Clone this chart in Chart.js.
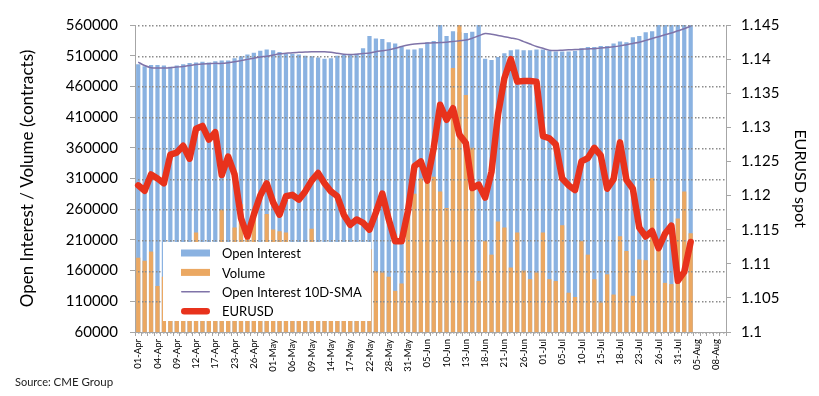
<!DOCTYPE html>
<html>
<head>
<meta charset="utf-8" />
<title>EURUSD futures: open interest and volume</title>
<script src="https://cdn.jsdelivr.net/npm/chart.js"></script>
<style>
  body { margin: 0; background: #fff; }
  #wrap { width: 819px; height: 396px; }
</style>
</head>
<body>
<div id="wrap"><canvas id="oiChart" width="819" height="396"></canvas></div>
<script>
// trading days (CME), 01-Apr .. 09-Aug
const dates = [
  '01-Apr','02-Apr','03-Apr','04-Apr','05-Apr','08-Apr','09-Apr','10-Apr','11-Apr','12-Apr',
  '15-Apr','16-Apr','17-Apr','18-Apr','22-Apr','23-Apr','24-Apr','25-Apr','26-Apr','29-Apr','30-Apr',
  '01-May','02-May','03-May','06-May','07-May','08-May','09-May','10-May','13-May','14-May','15-May',
  '16-May','17-May','20-May','21-May','22-May','23-May','24-May','28-May','29-May','30-May','31-May',
  '03-Jun','04-Jun','05-Jun','06-Jun','07-Jun','10-Jun','11-Jun','12-Jun','13-Jun','14-Jun',
  '17-Jun','18-Jun','19-Jun','20-Jun','21-Jun','24-Jun','25-Jun','26-Jun','27-Jun','28-Jun',
  '01-Jul','02-Jul','03-Jul','05-Jul','08-Jul','09-Jul','10-Jul','11-Jul','12-Jul','15-Jul','16-Jul',
  '17-Jul','18-Jul','19-Jul','22-Jul','23-Jul','24-Jul','25-Jul','26-Jul','29-Jul','30-Jul','31-Jul',
  '01-Aug','02-Aug','05-Aug','06-Aug','07-Aug','08-Aug','09-Aug'
];

const openInterest = [
  496000,493000,495000,495000,494000,492000,494000,496000,498000,499000,
  500000,499000,501000,502000,502000,506000,509000,512000,515000,518000,
  520000,519000,516000,513000,513000,512000,510000,509000,507000,505000,
  506000,510000,511000,512000,513000,522000,542000,538000,537000,532000,
  530000,525000,520000,520000,522000,532000,534000,562000,542000,550000,
  548000,547000,549000,563000,505000,503000,508000,514000,519000,520000,
  519000,519000,520000,520000,518000,517000,517000,517000,518000,522000,
  524000,524000,526000,526000,530000,533000,532000,540000,542000,548000,
  550000,565000,566000,568000,570000,570000,572000
];

const volume = [
  181000,176000,191000,135000,150000,140000,160000,170000,180000,222000,
  165000,150000,175000,259000,190000,230000,268000,230000,258000,190000,
  252000,227000,224000,222000,180000,170000,175000,228000,160000,150000,
  165000,150000,155000,160000,170000,180000,195000,159000,157000,150000,
  127000,139000,262000,285000,310000,316000,313000,289000,262000,490000,
  640000,446000,360000,143000,208000,186000,240000,230000,165000,222000,
  160000,146000,157000,222000,146000,143000,234000,124000,117000,208000,
  186000,146000,108000,154000,121000,216000,192000,119000,178000,177000,
  311000,200000,140000,138000,245000,289000,221000
];

const oiSma10 = [
  499500,494000,490500,490000,490000,490500,491500,492500,494000,495500,
  496500,497000,497500,497500,498500,500000,502000,504000,506000,508000,
  509000,511000,513000,514000,515000,515500,516000,516500,516500,516500,
  515500,514000,512500,512000,512500,513500,514500,516500,518000,519500,
  522000,525000,527500,529000,530000,530500,531000,531500,532000,533000,
  534500,535500,538500,542500,546000,545000,543000,541000,539000,537000,
  533000,529000,525000,522000,519000,518500,519000,519500,520000,520500,
  521000,521500,522500,523500,524500,526000,528000,530000,532000,535000,
  538000,541000,544000,547000,550500,554000,558000
];

const eurusd = [
  1.1215,1.1207,1.1231,1.1225,1.1218,1.1260,1.1263,1.1273,1.1254,1.1298,
  1.1302,1.1282,1.1293,1.1230,1.1257,1.1231,1.1167,1.1140,1.1172,1.1200,
  1.1218,1.1190,1.1172,1.1199,1.1201,1.1194,1.1206,1.1222,1.1233,1.1218,
  1.1206,1.1199,1.1172,1.1157,1.1165,1.1160,1.1150,1.1175,1.1203,1.1165,
  1.1133,1.1133,1.1178,1.1243,1.1250,1.1222,1.1270,1.1333,1.1311,1.1328,
  1.1289,1.1277,1.1211,1.1216,1.1197,1.1235,1.1318,1.1372,1.1400,1.1367,
  1.1368,1.1368,1.1367,1.1287,1.1284,1.1275,1.1225,1.1215,1.1208,1.1250,
  1.1255,1.1270,1.1259,1.1210,1.1224,1.1278,1.1223,1.1210,1.1153,1.1140,
  1.1148,1.1123,1.1144,1.1156,1.1075,1.1088,1.1132
];

const FONT = 'Lato, "Open Sans", sans-serif';
const AXIS_GREY = '#a6a6a6';

function drawDots(chart, colour) {
  const { ctx, chartArea } = chart;
  const ys = chart.scales.y;
  ctx.save();
  ctx.fillStyle = colour;
  // small square dots every 3.5 px along each tick level
  ys.ticks.forEach(t => {
    const py = Math.round(ys.getPixelForValue(t.value));
    for (let px = chartArea.left + 3; px < chartArea.right - 1; px += 3.5) {
      ctx.fillRect(Math.round(px), py, 1.5, 1.5);
    }
  });
  ctx.restore();
}

// dotted horizontal grid, drawn over the bars but under the two lines
const dottedGrid = {
  id: 'dottedGrid',
  beforeDatasetDraw(chart, args) {
    if (args.index === 2) drawDots(chart, '#8c8c8c');
  }
};

// legend inside the plot, bottom-left, white box drawn over bars and grid
const legendBox = {
  id: 'legendBox',
  afterDraw(chart) {
    const { ctx, chartArea } = chart;
    const x = chartArea.left + 28, y = chartArea.bottom - 90;
    const w = 208, h = 79;
    ctx.save();
    ctx.fillStyle = '#fff';
    ctx.fillRect(x, y, w, h);
    ctx.font = '13px ' + FONT;
    ctx.textBaseline = 'middle';
    chart.data.datasets.forEach((ds, i) => {
      const cy = y + 11 + i * 19.4;
      const sx = x + 18, sw = 29;
      if (ds.type === 'line') {
        ctx.strokeStyle = ds.borderColor;
        ctx.lineWidth = ds.borderWidth;
        ctx.lineCap = 'round';
        ctx.beginPath();
        ctx.moveTo(sx + ds.borderWidth / 2, cy);
        ctx.lineTo(sx + sw - ds.borderWidth / 2, cy);
        ctx.stroke();
      } else {
        ctx.fillStyle = ds.backgroundColor;
        ctx.fillRect(sx, cy - 3.5, sw, 7);
      }
      ctx.fillStyle = '#000';
      ctx.fillText(ds.label, x + 59, cy + 1);
    });

    // source note under the chart
    ctx.fillStyle = '#222';
    ctx.textBaseline = 'alphabetic';
    ctx.font = '11px ' + FONT;
    ctx.fillText('Source:', 15, 386);
    const sw = ctx.measureText('Source: ').width;
    ctx.font = '11.5px ' + FONT;
    ctx.fillText('CME Group', 15 + sw, 386);
    ctx.restore();
  }
};

new Chart(document.getElementById('oiChart'), {
  type: 'bar',
  data: {
    labels: dates,
    datasets: [
      {
        label: 'Open Interest',
        data: openInterest,
        backgroundColor: '#8ab2e1',
        yAxisID: 'y',
        grouped: false,
        barPercentage: 0.66,
        categoryPercentage: 1,
        order: 4
      },
      {
        label: 'Volume',
        data: volume,
        backgroundColor: '#eba862',
        yAxisID: 'y',
        grouped: false,
        barPercentage: 0.66,
        categoryPercentage: 1,
        order: 3
      },
      {
        type: 'line',
        label: 'Open Interest 10D-SMA',
        data: oiSma10,
        borderColor: '#7f73a8',
        borderWidth: 1.5,
        pointRadius: 0,
        tension: 0.3,
        yAxisID: 'y',
        order: 2
      },
      {
        type: 'line',
        label: 'EURUSD',
        data: eurusd,
        borderColor: '#e8321c',
        borderWidth: 6.5,
        borderJoinStyle: 'round',
        borderCapStyle: 'round',
        pointRadius: 0,
        tension: 0,
        yAxisID: 'y1',
        order: 1
      }
    ]
  },
  options: {
    responsive: false,
    animation: false,
    devicePixelRatio: 1,
    layout: { padding: { top: 25, right: 0, bottom: 0, left: 0 } },
    plugins: {
      legend: { display: false },
      tooltip: { enabled: false }
    },
    scales: {
      x: {
        offset: true,
        grid: { drawOnChartArea: false, tickLength: 4, color: AXIS_GREY, offset: true },
        border: { color: AXIS_GREY, z: 2 },
        ticks: {
          autoSkip: false,
          maxRotation: 90,
          minRotation: 90,
          padding: 3,
          color: '#000',
          font: { family: FONT, size: 9.5 },
          callback: (v, i) => (i % 3 === 0 ? dates[i] : '')
        },
        afterFit: s => { s.height = 64; }
      },
      y: {
        position: 'left',
        min: 60000,
        max: 560000,
        grid: { drawOnChartArea: false, tickLength: 5, color: AXIS_GREY },
        border: { color: AXIS_GREY },
        ticks: {
          stepSize: 50000,
          padding: 12,
          color: '#000',
          font: { family: FONT, size: 15 },
          callback: v => String(v)
        },
        title: {
          display: true,
          text: 'Open Interest / Volume (contracts)',
          color: '#000',
          font: { family: FONT, size: 17 },
          padding: { top: 17, bottom: 0 }
        },
        afterFit: s => { s.width = 135; }
      },
      y1: {
        position: 'right',
        min: 1.1,
        max: 1.145,
        grid: { drawOnChartArea: false, tickLength: 5, color: AXIS_GREY },
        border: { color: AXIS_GREY },
        ticks: {
          stepSize: 0.005,
          padding: 10,
          color: '#000',
          font: { family: FONT, size: 15 },
          callback: v => String(+v.toFixed(3))
        },
        title: {
          display: true,
          text: 'EURUSD spot',
          color: '#000',
          font: { family: FONT, size: 16 },
          padding: { top: 9, bottom: 0 }
        },
        afterFit: s => { s.width = 93; }
      }
    }
  },
  plugins: [dottedGrid, legendBox]
});
</script>
</body>
</html>
